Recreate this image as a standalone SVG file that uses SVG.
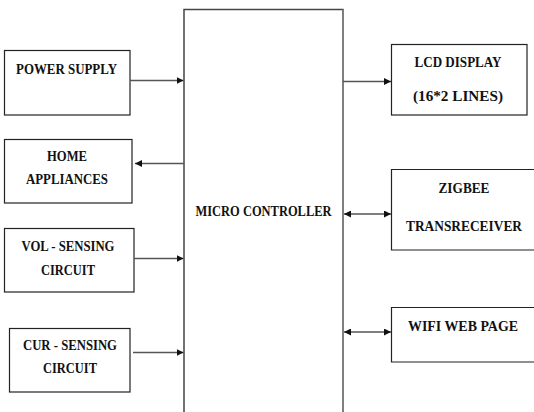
<svg xmlns="http://www.w3.org/2000/svg" width="534" height="412" viewBox="0 0 534 412">
<defs>
<marker id="ah" viewBox="0 0 10 10" refX="10" refY="5" markerWidth="7" markerHeight="7" markerUnits="userSpaceOnUse" orient="auto-start-reverse">
<path d="M0,0 L10,5 L0,10 z" fill="#111"/>
</marker>
<style>
.box{fill:#fff;stroke:#222;stroke-width:1.2}
.t{font-family:"Liberation Serif","Times New Roman",serif;font-weight:bold;font-size:15.5px;fill:#111;text-anchor:middle}
.c{stroke:#555;stroke-width:1.4;fill:none}
</style>
</defs>
<rect width="534" height="412" fill="#fff"/>
<g id="micro">
<path d="M184,412 V9.5 H343 V412" fill="#fff" stroke="#444" stroke-width="1.5"/>
<line x1="343" y1="9.5" x2="343" y2="412" stroke="#808080" stroke-width="1.8"/>
<text class="t" x="263.5" y="216" textLength="136" lengthAdjust="spacingAndGlyphs">MICRO CONTROLLER</text>
</g>
<g id="power">
<rect class="box" x="4.5" y="50.5" width="125.5" height="64.5"/>
<text class="t" x="66.5" y="74" textLength="101" lengthAdjust="spacingAndGlyphs">POWER SUPPLY</text>
</g>
<g id="home">
<rect class="box" x="4.5" y="139.5" width="127.5" height="63.5"/>
<text class="t" x="67" y="161" textLength="40" lengthAdjust="spacingAndGlyphs">HOME</text>
<text class="t" x="67" y="184" textLength="82" lengthAdjust="spacingAndGlyphs">APPLIANCES</text>
</g>
<g id="vol">
<rect class="box" x="4.5" y="228.5" width="129.5" height="63.5"/>
<text class="t" x="68" y="251" textLength="93" lengthAdjust="spacingAndGlyphs">VOL - SENSING</text>
<text class="t" x="68" y="275" textLength="54" lengthAdjust="spacingAndGlyphs">CIRCUIT</text>
</g>
<g id="cur">
<rect class="box" x="9.5" y="328.5" width="120.5" height="63.5"/>
<text class="t" x="70" y="350" textLength="94" lengthAdjust="spacingAndGlyphs">CUR - SENSING</text>
<text class="t" x="70" y="373" textLength="54" lengthAdjust="spacingAndGlyphs">CIRCUIT</text>
</g>
<g id="lcd">
<rect class="box" x="391.5" y="44.5" width="135.5" height="70.5"/>
<text class="t" x="458" y="67" textLength="87" lengthAdjust="spacingAndGlyphs">LCD DISPLAY</text>
<text class="t" x="458" y="101" textLength="90" lengthAdjust="spacingAndGlyphs">(16*2 LINES)</text>
</g>
<g id="zigbee">
<path class="box" d="M534,169.5 H391.5 V250 H534"/>
<text class="t" x="464" y="193" textLength="51" lengthAdjust="spacingAndGlyphs">ZIGBEE</text>
<text class="t" x="464" y="231" textLength="116" lengthAdjust="spacingAndGlyphs">TRANSRECEIVER</text>
</g>
<g id="wifi">
<path class="box" d="M534,307.5 H391.5 V362 H534"/>
<text class="t" x="463" y="331" textLength="110" lengthAdjust="spacingAndGlyphs">WIFI WEB PAGE</text>
</g>
<g id="connectors">
<line class="c" x1="130" y1="80.5" x2="183.5" y2="80.5" marker-end="url(#ah)"/>
<line class="c" x1="184" y1="163.5" x2="135" y2="163.5" marker-end="url(#ah)"/>
<line class="c" x1="134" y1="258.5" x2="183.5" y2="258.5" marker-end="url(#ah)"/>
<line class="c" x1="133" y1="352.5" x2="183.5" y2="352.5" marker-end="url(#ah)"/>
<line class="c" x1="343" y1="81.5" x2="391" y2="81.5" marker-end="url(#ah)"/>
<line class="c" x1="344" y1="214" x2="391" y2="214" marker-start="url(#ah)" marker-end="url(#ah)"/>
<line class="c" x1="344" y1="332" x2="391" y2="332" marker-start="url(#ah)" marker-end="url(#ah)"/>
</g>
</svg>
